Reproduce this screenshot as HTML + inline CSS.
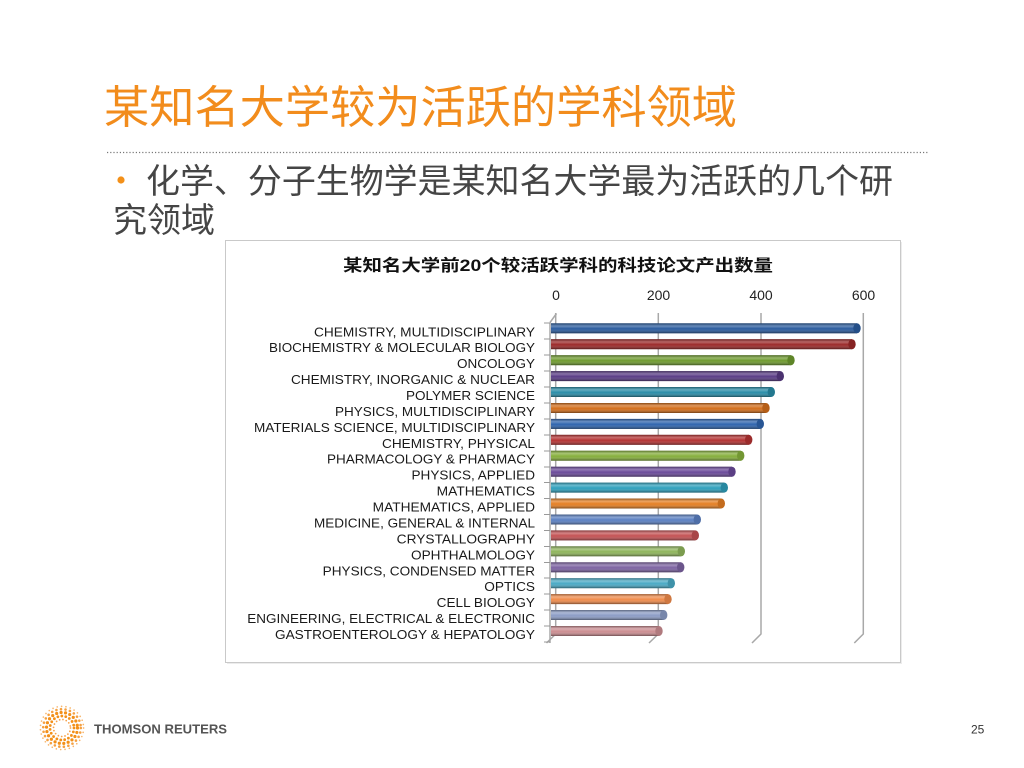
<!DOCTYPE html>
<html>
<head>
<meta charset="utf-8">
<style>
html,body{margin:0;padding:0;background:#fff;}
svg{display:block;}
.cj{font-family:"Liberation Sans","Noto Sans CJK SC",sans-serif;}
.lb{font-family:"Liberation Sans",sans-serif;font-size:12.5px;fill:#1a1a1a;}
</style>
</head>
<body>
<svg width="1024" height="768" viewBox="0 0 1024 768" xmlns="http://www.w3.org/2000/svg">
<defs>
<linearGradient id="sh" x1="0" y1="0" x2="0" y2="1">
<stop offset="0" stop-color="#000" stop-opacity="0.35"/>
<stop offset="0.28" stop-color="#fff" stop-opacity="0.28"/>
<stop offset="0.55" stop-color="#fff" stop-opacity="0"/>
<stop offset="1" stop-color="#000" stop-opacity="0.45"/>
</linearGradient>
</defs>
<rect width="1024" height="768" fill="#fff"/>

<!-- Title -->
<text class="cj" x="104" y="123" font-size="45" fill="#F28C1C" textLength="633" lengthAdjust="spacingAndGlyphs">某知名大学较为活跃的学科领域</text>
<line x1="107" y1="152.5" x2="928" y2="152.5" stroke="#777" stroke-width="1.2" stroke-dasharray="1.2 2"/>

<!-- Bullet -->
<circle cx="121" cy="180" r="3.6" fill="#F39019"/>
<text class="cj" x="146" y="193" font-size="34" fill="#454545" textLength="747" lengthAdjust="spacingAndGlyphs">化学、分子生物学是某知名大学最为活跃的几个研</text>
<text class="cj" x="113" y="232" font-size="34" fill="#454545" textLength="102" lengthAdjust="spacingAndGlyphs">究领域</text>

<!-- Chart frame -->
<rect x="227" y="242" width="675" height="422" fill="#ececec"/>
<rect x="225.5" y="240.5" width="675" height="422" fill="#fff" stroke="#c9c9c9" stroke-width="1"/>

<text class="cj" x="343" y="271" font-size="16.5" font-weight="bold" fill="#111" textLength="430" lengthAdjust="spacingAndGlyphs">某知名大学前20个较活跃学科的科技论文产出数量</text>

<!-- Axis labels -->
<g font-family="Liberation Sans, sans-serif" font-size="14" fill="#222" text-anchor="middle">
<text x="556" y="300">0</text>
<text x="658.5" y="300">200</text>
<text x="761" y="300">400</text>
<text x="863.5" y="300">600</text>
</g>

<!-- Gridlines (back wall) -->
<g stroke="#a8a8a8" stroke-width="1.5" fill="none">
<polyline points="555.7,313 555.7,634 546.5,643"/>
<polyline points="658.3,313 658.3,634 649,643"/>
<polyline points="761,313 761,634 752,643"/>
<polyline points="863.3,313 863.3,634 854.3,643"/>
<line x1="550" y1="322.5" x2="556.5" y2="313.5"/>
<line x1="550" y1="322.5" x2="550" y2="643"/>
</g>
<g stroke="#999" stroke-width="1">
<line x1="544" y1="323" x2="550" y2="323"/>
<line x1="544" y1="339" x2="550" y2="339"/>
<line x1="544" y1="355" x2="550" y2="355"/>
<line x1="544" y1="371" x2="550" y2="371"/>
<line x1="544" y1="387" x2="550" y2="387"/>
<line x1="544" y1="403" x2="550" y2="403"/>
<line x1="544" y1="419" x2="550" y2="419"/>
<line x1="544" y1="435" x2="550" y2="435"/>
<line x1="544" y1="451" x2="550" y2="451"/>
<line x1="544" y1="467" x2="550" y2="467"/>
<line x1="544" y1="482.5" x2="550" y2="482.5"/>
<line x1="544" y1="498.5" x2="550" y2="498.5"/>
<line x1="544" y1="514.5" x2="550" y2="514.5"/>
<line x1="544" y1="530.5" x2="550" y2="530.5"/>
<line x1="544" y1="546.5" x2="550" y2="546.5"/>
<line x1="544" y1="562.5" x2="550" y2="562.5"/>
<line x1="544" y1="578" x2="550" y2="578"/>
<line x1="544" y1="594" x2="550" y2="594"/>
<line x1="544" y1="610" x2="550" y2="610"/>
<line x1="544" y1="626" x2="550" y2="626"/>
<line x1="544" y1="642" x2="550" y2="642"/>
</g>

<!-- Category labels -->
<g class="lb">
<text x="314" y="336.3" textLength="221" lengthAdjust="spacingAndGlyphs">CHEMISTRY, MULTIDISCIPLINARY</text>
<text x="269" y="352.2" textLength="266" lengthAdjust="spacingAndGlyphs">BIOCHEMISTRY &amp; MOLECULAR BIOLOGY</text>
<text x="457" y="368.2" textLength="78" lengthAdjust="spacingAndGlyphs">ONCOLOGY</text>
<text x="291" y="384.1" textLength="244" lengthAdjust="spacingAndGlyphs">CHEMISTRY, INORGANIC &amp; NUCLEAR</text>
<text x="406" y="400.0" textLength="129" lengthAdjust="spacingAndGlyphs">POLYMER SCIENCE</text>
<text x="335" y="416.0" textLength="200" lengthAdjust="spacingAndGlyphs">PHYSICS, MULTIDISCIPLINARY</text>
<text x="254" y="431.9" textLength="281" lengthAdjust="spacingAndGlyphs">MATERIALS SCIENCE, MULTIDISCIPLINARY</text>
<text x="382" y="447.8" textLength="153" lengthAdjust="spacingAndGlyphs">CHEMISTRY, PHYSICAL</text>
<text x="327" y="463.7" textLength="208" lengthAdjust="spacingAndGlyphs">PHARMACOLOGY &amp; PHARMACY</text>
<text x="411.5" y="479.7" textLength="123.5" lengthAdjust="spacingAndGlyphs">PHYSICS, APPLIED</text>
<text x="436.7" y="495.6" textLength="98.3" lengthAdjust="spacingAndGlyphs">MATHEMATICS</text>
<text x="372.7" y="511.5" textLength="162.3" lengthAdjust="spacingAndGlyphs">MATHEMATICS, APPLIED</text>
<text x="314" y="527.5" textLength="221" lengthAdjust="spacingAndGlyphs">MEDICINE, GENERAL &amp; INTERNAL</text>
<text x="396.7" y="543.4" textLength="138.3" lengthAdjust="spacingAndGlyphs">CRYSTALLOGRAPHY</text>
<text x="411" y="559.3" textLength="124" lengthAdjust="spacingAndGlyphs">OPHTHALMOLOGY</text>
<text x="322.7" y="575.3" textLength="212.3" lengthAdjust="spacingAndGlyphs">PHYSICS, CONDENSED MATTER</text>
<text x="484.3" y="591.2" textLength="50.7" lengthAdjust="spacingAndGlyphs">OPTICS</text>
<text x="436.7" y="607.1" textLength="98.3" lengthAdjust="spacingAndGlyphs">CELL BIOLOGY</text>
<text x="247.3" y="623.0" textLength="287.7" lengthAdjust="spacingAndGlyphs">ENGINEERING, ELECTRICAL &amp; ELECTRONIC</text>
<text x="275" y="639.0" textLength="260" lengthAdjust="spacingAndGlyphs">GASTROENTEROLOGY &amp; HEPATOLOGY</text>
</g>

<!-- Bars -->
<g>
<rect x="551" y="323.3" width="306" height="10" fill="#2B5C9E"/><rect x="551" y="323.3" width="306" height="10" fill="url(#sh)"/><ellipse cx="857" cy="328.3" rx="3.7" ry="5" fill="#244F88"/>
<rect x="551" y="339.2" width="301" height="10" fill="#9C2A2A"/><rect x="551" y="339.2" width="301" height="10" fill="url(#sh)"/><ellipse cx="852" cy="344.2" rx="3.7" ry="5" fill="#862323"/>
<rect x="551" y="355.2" width="240" height="10" fill="#6F9B30"/><rect x="551" y="355.2" width="240" height="10" fill="url(#sh)"/><ellipse cx="791" cy="360.2" rx="3.7" ry="5" fill="#5E8528"/>
<rect x="551" y="371.1" width="229.3" height="10" fill="#5A3D86"/><rect x="551" y="371.1" width="229.3" height="10" fill="url(#sh)"/><ellipse cx="780.3" cy="376.1" rx="3.7" ry="5" fill="#4B3270"/>
<rect x="551" y="387.0" width="220.3" height="10" fill="#2A8DA8"/><rect x="551" y="387.0" width="220.3" height="10" fill="url(#sh)"/><ellipse cx="771.3" cy="392.0" rx="3.7" ry="5" fill="#23788F"/>
<rect x="551" y="403.0" width="215" height="10" fill="#D36F1C"/><rect x="551" y="403.0" width="215" height="10" fill="url(#sh)"/><ellipse cx="766" cy="408.0" rx="3.7" ry="5" fill="#B55E17"/>
<rect x="551" y="418.9" width="209.3" height="10" fill="#2F65AE"/><rect x="551" y="418.9" width="209.3" height="10" fill="url(#sh)"/><ellipse cx="760.3" cy="423.9" rx="3.7" ry="5" fill="#285695"/>
<rect x="551" y="434.8" width="197.7" height="10" fill="#B53333"/><rect x="551" y="434.8" width="197.7" height="10" fill="url(#sh)"/><ellipse cx="748.7" cy="439.8" rx="3.7" ry="5" fill="#9B2B2B"/>
<rect x="551" y="450.7" width="189.7" height="10" fill="#86AF3C"/><rect x="551" y="450.7" width="189.7" height="10" fill="url(#sh)"/><ellipse cx="740.7" cy="455.7" rx="3.7" ry="5" fill="#739733"/>
<rect x="551" y="466.7" width="181" height="10" fill="#6B4B9A"/><rect x="551" y="466.7" width="181" height="10" fill="url(#sh)"/><ellipse cx="732" cy="471.7" rx="3.7" ry="5" fill="#5B3F84"/>
<rect x="551" y="482.6" width="173.3" height="10" fill="#2FA0BC"/><rect x="551" y="482.6" width="173.3" height="10" fill="url(#sh)"/><ellipse cx="724.3" cy="487.6" rx="3.7" ry="5" fill="#2888A0"/>
<rect x="551" y="498.5" width="170.3" height="10" fill="#E47F24"/><rect x="551" y="498.5" width="170.3" height="10" fill="url(#sh)"/><ellipse cx="721.3" cy="503.5" rx="3.7" ry="5" fill="#C46C1E"/>
<rect x="551" y="514.5" width="146.3" height="10" fill="#5B80C2"/><rect x="551" y="514.5" width="146.3" height="10" fill="url(#sh)"/><ellipse cx="697.3" cy="519.5" rx="3.7" ry="5" fill="#4E6EA7"/>
<rect x="551" y="530.4" width="144.3" height="10" fill="#C45254"/><rect x="551" y="530.4" width="144.3" height="10" fill="url(#sh)"/><ellipse cx="695.3" cy="535.4" rx="3.7" ry="5" fill="#A84648"/>
<rect x="551" y="546.3" width="130.3" height="10" fill="#8FB55C"/><rect x="551" y="546.3" width="130.3" height="10" fill="url(#sh)"/><ellipse cx="681.3" cy="551.3" rx="3.7" ry="5" fill="#7B9C4F"/>
<rect x="551" y="562.3" width="129.7" height="10" fill="#7D63A2"/><rect x="551" y="562.3" width="129.7" height="10" fill="url(#sh)"/><ellipse cx="680.7" cy="567.3" rx="3.7" ry="5" fill="#6B558B"/>
<rect x="551" y="578.2" width="120.3" height="10" fill="#4AAAC5"/><rect x="551" y="578.2" width="120.3" height="10" fill="url(#sh)"/><ellipse cx="671.3" cy="583.2" rx="3.7" ry="5" fill="#3F92A9"/>
<rect x="551" y="594.1" width="117" height="10" fill="#F08C4C"/><rect x="551" y="594.1" width="117" height="10" fill="url(#sh)"/><ellipse cx="668" cy="599.1" rx="3.7" ry="5" fill="#CF7841"/>
<rect x="551" y="610.0" width="112.7" height="10" fill="#8C9DC6"/><rect x="551" y="610.0" width="112.7" height="10" fill="url(#sh)"/><ellipse cx="663.7" cy="615.0" rx="3.7" ry="5" fill="#7887AB"/>
<rect x="551" y="626.0" width="108" height="10" fill="#CC8E92"/><rect x="551" y="626.0" width="108" height="10" fill="url(#sh)"/><ellipse cx="659" cy="631.0" rx="3.7" ry="5" fill="#B07A7E"/>
</g>

<!-- Footer logo -->
<g fill="none" stroke-linecap="round">
<circle cx="62" cy="728" r="8.5" stroke="#F7A24A" stroke-width="1.8" stroke-dasharray="0 3.4"/>
<circle cx="62" cy="728" r="12" stroke="#F39019" stroke-width="2.8" stroke-dasharray="0 4"/>
<circle cx="62" cy="728" r="15.5" stroke="#F39019" stroke-width="3.2" stroke-dasharray="0 4.5"/>
<circle cx="62" cy="728" r="18.8" stroke="#F5A040" stroke-width="2.6" stroke-dasharray="0 4.6"/>
<circle cx="62" cy="728" r="21.6" stroke="#F8B56A" stroke-width="1.7" stroke-dasharray="0 4.4"/>
</g>
<text x="94" y="733.5" font-family="Liberation Sans, sans-serif" font-size="13" font-weight="bold" fill="#555" textLength="133" lengthAdjust="spacingAndGlyphs">THOMSON REUTERS</text>
<text x="971" y="733.5" font-family="Liberation Sans, sans-serif" font-size="12" fill="#333">25</text>
</svg>
</body>
</html>
